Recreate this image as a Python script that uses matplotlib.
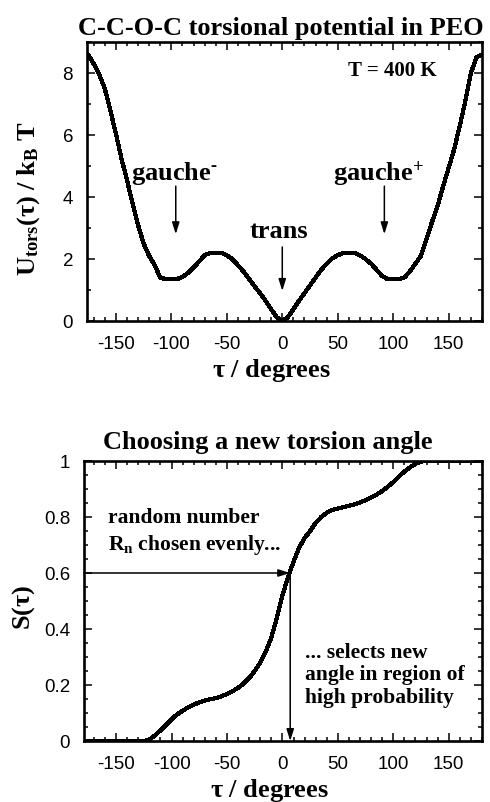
import numpy as np
import matplotlib
matplotlib.use("Agg")
import matplotlib.pyplot as plt
from matplotlib.ticker import MultipleLocator

plt.rcParams['axes.unicode_minus'] = False
plt.rcParams['mathtext.fontset'] = 'custom'
plt.rcParams['mathtext.rm'] = 'Liberation Serif:bold'
plt.rcParams['mathtext.it'] = 'Liberation Serif:bold'
plt.rcParams['mathtext.bf'] = 'Liberation Serif:bold'

# Torsion angle grid (degrees)
tau = list(range(-180, 181, 5))

# U_tors(tau) / kB T for the C-C-O-C torsion at 400 K
u_tors = [8.75, 8.6, 8.3, 7.95, 7.5, 6.8, 6.05, 5.25, 4.55, 3.8,
          3.1, 2.5, 2.1, 1.8, 1.4, 1.35, 1.35, 1.35, 1.42, 1.55,
          1.72, 1.92, 2.12, 2.2, 2.2, 2.2, 2.12, 2.0, 1.8, 1.6,
          1.36, 1.12, 0.9, 0.65, 0.38, 0.12, 0.0,
          0.12, 0.38, 0.65, 0.9, 1.15, 1.4, 1.65, 1.85, 2.02, 2.12,
          2.2, 2.2, 2.2, 2.12, 2.0, 1.85, 1.65, 1.45, 1.35, 1.35,
          1.35, 1.4, 1.6, 1.85, 2.1, 2.65, 3.2, 3.72, 4.35, 4.95,
          5.55, 6.3, 7.1, 8.0, 8.5, 8.6]

# Cumulative distribution S(tau)
s_cum = [0.0, 0.0, 0.0, 0.0, 0.0, 0.0, 0.0, 0.0, 0.0, 0.0,
         0.0, 0.0, 0.005, 0.02, 0.038, 0.058, 0.078, 0.095, 0.108, 0.12,
         0.13, 0.138, 0.145, 0.149, 0.153, 0.16, 0.168, 0.178, 0.19, 0.205,
         0.225, 0.25, 0.28, 0.32, 0.37, 0.44, 0.52,
         0.585, 0.64, 0.69, 0.725, 0.75, 0.78, 0.8, 0.815, 0.825, 0.83,
         0.835, 0.84, 0.845, 0.852, 0.86, 0.87, 0.88, 0.893, 0.908, 0.925,
         0.945, 0.962, 0.977, 0.99, 0.998, 1.0, 1.0, 1.0, 1.0, 1.0,
         1.0, 1.0, 1.0, 1.0, 1.0, 1.0]

rn_value = 0.6      # random number R_n
tau_selected = 7    # angle it maps to

xticks = [-150, -100, -50, 0, 50, 100, 150]

serif = 'Liberation Serif'
sans = 'Liberation Sans'
big = 19

W, H = 490, 803
fig = plt.figure(figsize=(W / 100, H / 100), dpi=100)


def px_axes(l, r, t, b):
    return fig.add_axes([l / W, 1 - b / H, (r - l) / W, (b - t) / H])


def style_axes(ax, ymajor, yminor):
    ax.xaxis.set_major_locator(MultipleLocator(50))
    ax.xaxis.set_minor_locator(MultipleLocator(10))
    ax.yaxis.set_major_locator(MultipleLocator(ymajor))
    ax.yaxis.set_minor_locator(MultipleLocator(yminor))
    ax.set_xticks(xticks)
    ax.tick_params(which='both', direction='in', top=True, right=True,
                   width=1.1, labelsize=13.5, pad=10)
    ax.tick_params(which='major', length=6)
    ax.tick_params(which='minor', length=3)
    for lab in ax.get_xticklabels() + ax.get_yticklabels():
        lab.set_fontfamily(sans)
    for sp in ax.spines.values():
        sp.set_linewidth(1.9)


arrow = dict(arrowstyle='-|>,head_length=0.7,head_width=0.22',
             color='black', lw=1.1, shrinkA=0, shrinkB=0)
bold = dict(fontfamily=serif, fontweight='bold')

# ---- top panel: torsional potential ----
ax1 = px_axes(87, 482, 43, 322)
ax1.plot(tau, u_tors, color='black', lw=2.3, antialiased=False)
ax1.set_xlim(-176, 180)
ax1.set_ylim(0, 9)
style_axes(ax1, 2, 1)

fig.text(281 / W, 1 - 28 / H, 'C-C-O-C torsional potential in PEO',
         ha='center', va='center', fontsize=big, **bold)
ax1.set_xlabel(r'$\tau$ / degrees', fontsize=big, **bold)
ax1.xaxis.set_label_coords(0.468, -0.196)
ax1.xaxis.label.set_va('baseline')
ax1.set_ylabel(r'U$_{\rm tors}$($\tau$) / k$_{\rm B}$ T', fontsize=big, **bold)
ax1.yaxis.set_label_coords(-0.147, 0.44)
ax1.yaxis.label.set_va('center')

ax1.text(139, 7.95, 'T = 400 K', ha='right', va='baseline', fontsize=15, **bold)
ax1.text(-97, 4.58, r'gauche$^{\text{-}}$', ha='center', va='baseline', fontsize=big, **bold)
ax1.text(87, 4.58, 'gauche$^{+}$', ha='center', va='baseline', fontsize=big, **bold)
ax1.text(-3, 2.71, 'trans', ha='center', va='baseline', fontsize=big, **bold)
ax1.annotate('', xy=(-96, 2.8), xytext=(-96, 4.35), arrowprops=arrow)
ax1.annotate('', xy=(92, 2.8), xytext=(92, 4.35), arrowprops=arrow)
ax1.annotate('', xy=(0, 0.97), xytext=(0, 2.39), arrowprops=arrow)

# ---- bottom panel: cumulative distribution ----
ax2 = px_axes(84, 482, 462, 742)
ax2.plot(tau, s_cum, color='black', lw=2.3, antialiased=False)
ax2.set_xlim(-179, 180)
ax2.set_ylim(0, 1)
style_axes(ax2, 0.2, 0.05)
ax2.yaxis.set_major_formatter(plt.FuncFormatter(lambda v, p: f'{v:g}'))

fig.text(268 / W, 1 - 443 / H, 'Choosing a new torsion angle',
         ha='center', va='center', fontsize=big, **bold)
ax2.set_xlabel(r'$\tau$ / degrees', fontsize=big, **bold)
ax2.xaxis.set_label_coords(0.467, -0.195)
ax2.xaxis.label.set_va('baseline')
ax2.set_ylabel(r'S($\tau$)', fontsize=big, **bold)
ax2.yaxis.set_label_coords(-0.153, 0.482)
ax2.yaxis.label.set_va('center')

ax2.text(-157, 0.782, 'random number', ha='left', va='baseline', fontsize=15.5, **bold)
ax2.text(-157, 0.686, 'R$_{\\rm n}$ chosen evenly...', ha='left', va='baseline',
         fontsize=15.5, **bold)
for i, line in enumerate(['... selects new', 'angle in region of', 'high probability']):
    ax2.text(20, 0.30 - 0.08 * i, line, ha='left', va='baseline', fontsize=15.5, **bold)

ax2.annotate('', xy=(tau_selected, rn_value), xytext=(-179, rn_value), arrowprops=arrow)
ax2.annotate('', xy=(tau_selected, 0), xytext=(tau_selected, rn_value), arrowprops=arrow)

fig.savefig('out.png', dpi=100)
